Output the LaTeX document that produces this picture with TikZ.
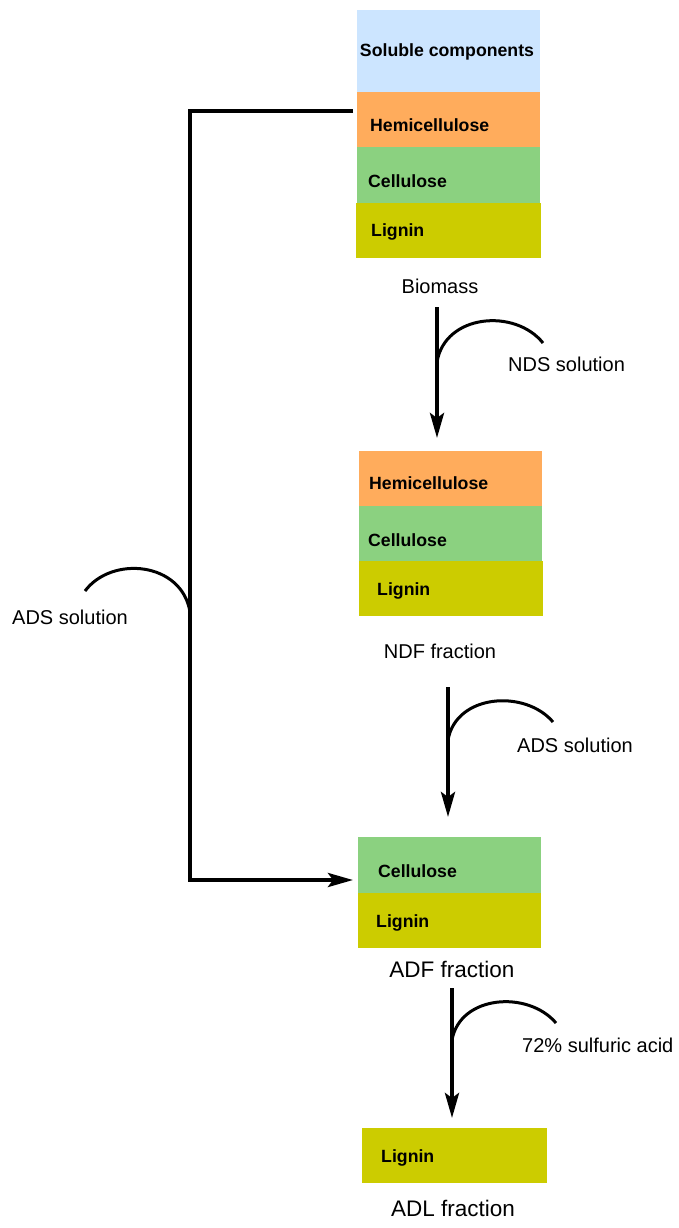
\documentclass[tikz,border=0pt]{standalone}
\usepackage{fontspec}
\setmainfont{Liberation Sans}
\usetikzlibrary{arrows.meta,calc}
\definecolor{solblue}{HTML}{CCE5FF}
\definecolor{hemiorange}{HTML}{FFAC5C}
\definecolor{cellgreen}{HTML}{8BD180}
\definecolor{ligolive}{HTML}{CCCC00}
\tikzset{
  layer/.style={fill=#1, draw=none, inner sep=0pt, anchor=north west},
  tag/.style={font=\fontsize{17.7}{20}\selectfont\bfseries, inner sep=0pt, anchor=west},
  caption/.style={font=\fontsize{20}{24}\selectfont, inner sep=0pt},
  bigcaption/.style={font=\fontsize{22.5}{27}\selectfont, inner sep=0pt},
  flow/.style={line width=4pt, -{Stealth[length=25pt,width=14pt,inset=5pt]}},
  feed/.style={line width=3pt},
}
\newcommand{\layerbox}[6]{% name, colour, x, y, width, height
  \node[layer=#2, minimum width=#5pt, minimum height=#6pt] (#1) at (#3,#4) {};}
\begin{document}
\begin{tikzpicture}[x=1pt,y=-1pt]
\useasboundingbox (0,0) rectangle (678,1228);

% biomass stack
\layerbox{sol}{solblue}{357}{10}{183}{82}
\layerbox{hemiA}{hemiorange}{357}{92}{183}{55}
\layerbox{cellA}{cellgreen}{357}{147}{183}{56}
\layerbox{ligA}{ligolive}{356}{203}{185}{55}
\node[tag, anchor=center] (tsol) at (447,52) {Soluble components};
\node[tag] (thA) at (370,125) {Hemicellulose};
\node[tag] (tcA) at (368,181) {Cellulose};
\node[tag] (tlA) at (371,232) {Lignin};
\node[caption] (biomass) at (440,286) {Biomass};

% NDF stack
\layerbox{hemiB}{hemiorange}{359}{451}{183}{55}
\layerbox{cellB}{cellgreen}{359}{506}{183}{55}
\layerbox{ligB}{ligolive}{359}{561}{184}{55}
\node[tag] (thB) at (369,483) {Hemicellulose};
\node[tag] (tcB) at (368,540) {Cellulose};
\node[tag] (tlB) at (377,591) {Lignin};
\node[caption] (ndf) at (440,651) {NDF fraction};

% ADF stack
\layerbox{cellC}{cellgreen}{358}{837}{183}{56}
\layerbox{ligC}{ligolive}{358}{893}{183}{55}
\node[tag] (tcC) at (378,871) {Cellulose};
\node[tag] (tlC) at (376,923) {Lignin};
\node[bigcaption] (adf) at (452,969) {ADF fraction};

% ADL
\layerbox{ligD}{ligolive}{362}{1128}{185}{55}
\node[tag] (tlD) at (381,1158) {Lignin};
\node[bigcaption] (adl) at (453,1208) {ADL fraction};

% reagent labels
\node[caption, anchor=west] (nds) at (508,364) {NDS solution};
\node[caption, anchor=west] (adsB) at (517,745) {ADS solution};
\node[caption, anchor=west] (acid) at (522,1045) {72\% sulfuric acid};
\node[caption, anchor=west] (adsA) at (12,617) {ADS solution};

% connector end points
\coordinate (s1) at (437,307);  \coordinate (e1) at (437,438);
\coordinate (s2) at (448,687);  \coordinate (e2) at (448,817);
\coordinate (s3) at (452,988);  \coordinate (e3) at (452,1118);
\coordinate (bTop) at (353,111); \coordinate (bCorner) at (190,111);
\coordinate (bLow) at (190,880); \coordinate (bEnd) at (353,880);
\coordinate (j1) at (437,362);
\coordinate (j2) at (448,740);
\coordinate (j3) at (452,1040);
\coordinate (j4) at (190,612);

% main flow arrows
\draw[flow] (s1) -- (e1);
\draw[flow] (s2) -- (e2);
\draw[flow] (s3) -- (e3);
\draw[flow] (bTop) -- (bCorner) -- (bLow) -- (bEnd);

% reagent feed arcs
\draw[feed] (j1) .. controls ($(j1)+(8,-48)$) and ($(j1)+(78,-54)$) .. ($(j1)+(106,-19)$);
\draw[feed] (j2) .. controls ($(j2)+(8,-46)$) and ($(j2)+(77,-51)$) .. ($(j2)+(105,-18)$);
\draw[feed] (j3) .. controls ($(j3)+(8,-45)$) and ($(j3)+(76,-50)$) .. ($(j3)+(104,-17)$);
\draw[feed] (j4) .. controls ($(j4)+(-8,-50)$) and ($(j4)+(-78,-57)$) .. ($(j4)+(-105,-21)$);
\end{tikzpicture}
\end{document}
